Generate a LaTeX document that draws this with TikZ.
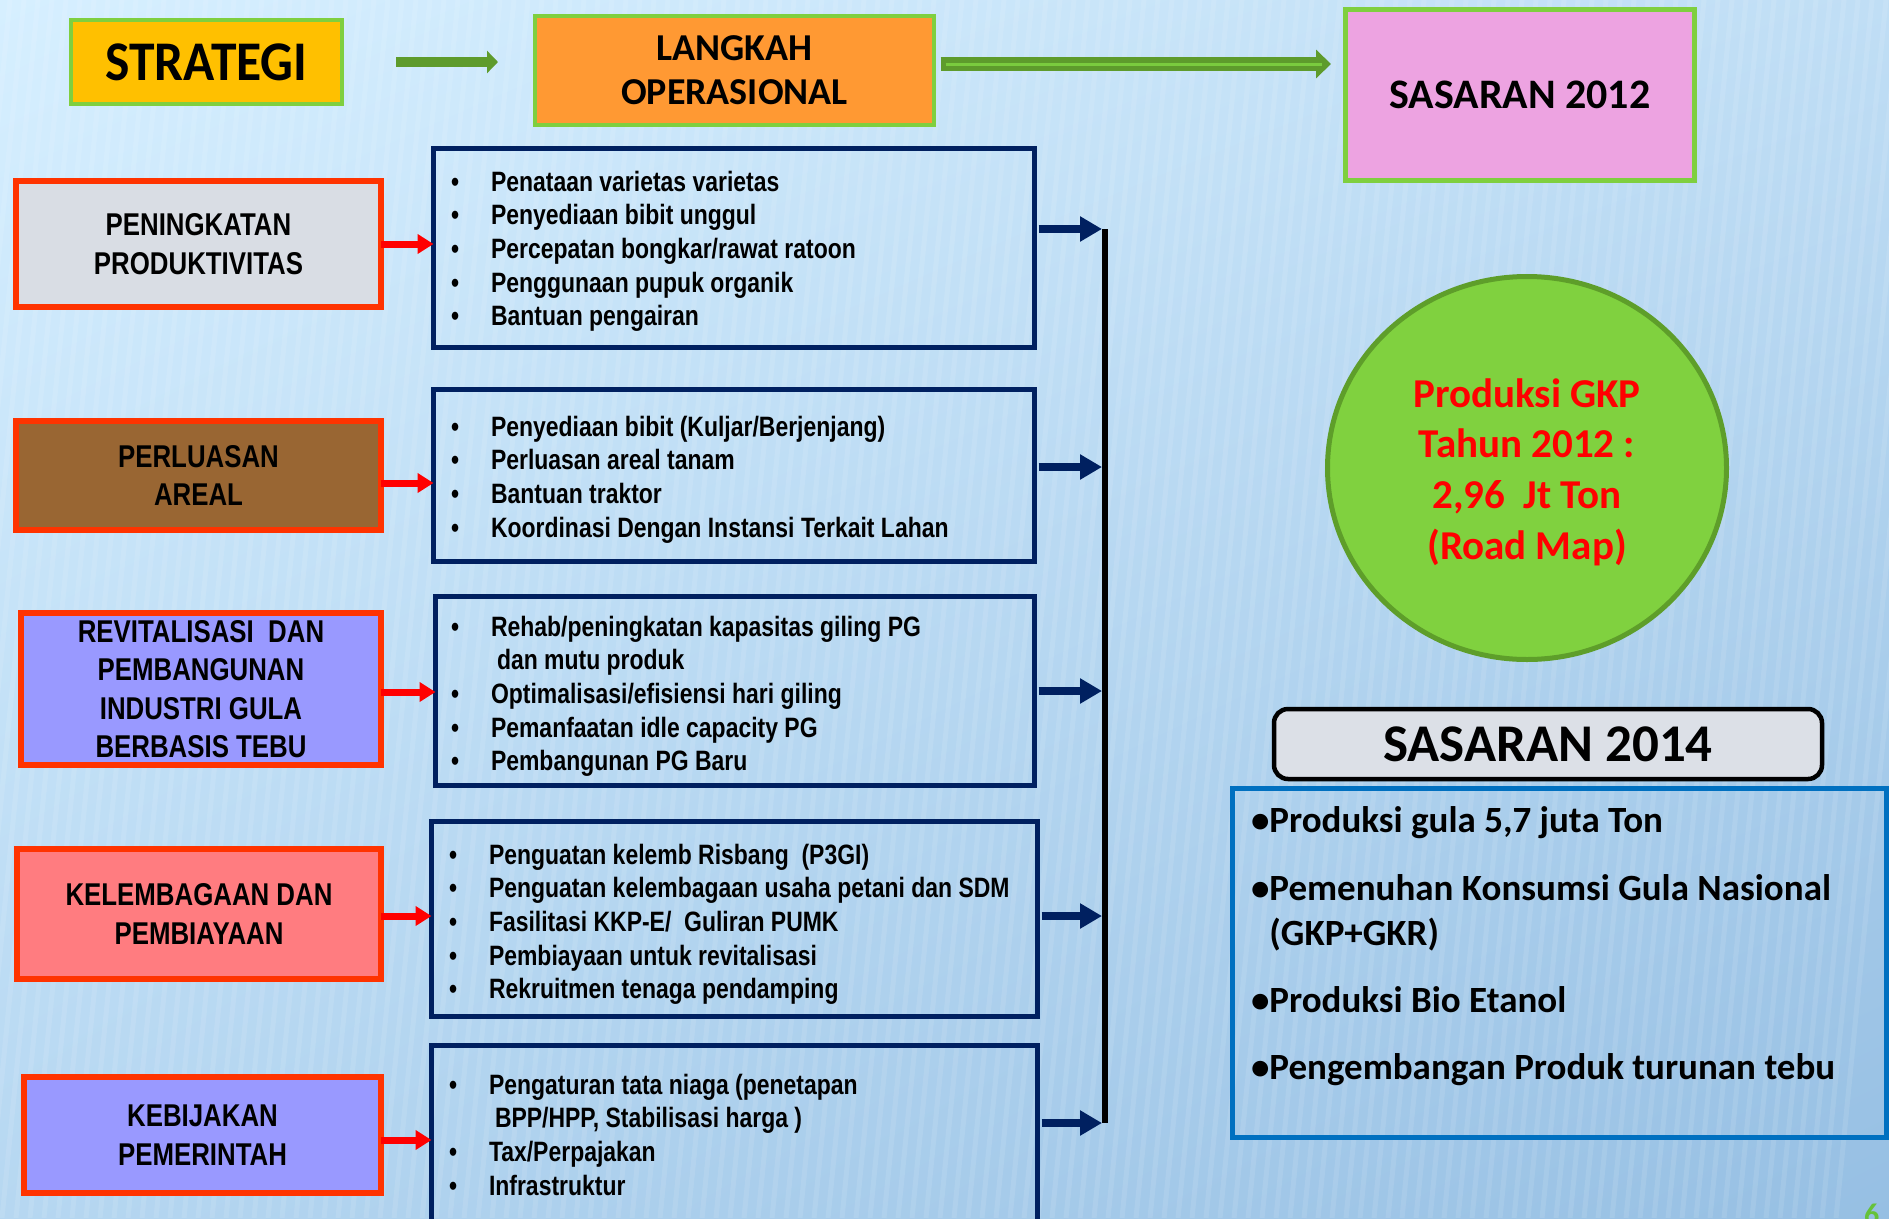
\documentclass[tikz,border=0pt]{standalone}
\usepackage{fontspec}
\usetikzlibrary{arrows.meta,shapes.geometric,shadings}
\newfontfamily\narrowfont[FakeStretch=0.82]{Liberation Sans}
\newfontfamily\calfont{Carlito}
\newfontfamily\calnarrow[FakeStretch=0.92]{Carlito}
\definecolor{bgUL}{HTML}{D6EFFF}
\definecolor{bgUR}{HTML}{C0DEF5}
\definecolor{bgLL}{HTML}{B6D7F1}
\definecolor{bgLR}{HTML}{96BFE3}
\definecolor{gArrow}{HTML}{5E9B2C}
\definecolor{gLight}{HTML}{7ACB3E}
\definecolor{gBorder}{HTML}{7FCF3F}
\definecolor{stratFill}{HTML}{FFC000}
\definecolor{langFill}{HTML}{FF9933}
\definecolor{sasFill}{HTML}{EDA3E1}
\definecolor{redB}{HTML}{FF3300}
\definecolor{redA}{HTML}{FF0000}
\definecolor{grayFill}{HTML}{D9DDE4}
\definecolor{brownFill}{HTML}{996633}
\definecolor{lilacFill}{HTML}{9999FF}
\definecolor{salmonFill}{HTML}{FF7C80}
\definecolor{navy}{HTML}{002060}
\definecolor{circFill}{HTML}{80D13F}
\definecolor{circBorder}{HTML}{5E9E2A}
\definecolor{sasGray}{HTML}{DCE0E7}
\definecolor{blueB}{HTML}{0070C0}
\definecolor{pageNum}{HTML}{66C23A}
\newcommand{\mybul}{\makebox[40pt][l]{•}}
\begin{document}
\begin{tikzpicture}[x=1pt,y=-1pt,
  topbox/.style={draw=gBorder, line width=4pt, inner sep=0pt, outer sep=0pt, align=center},
  lbox/.style={draw=redB, line width=6pt, inner sep=0pt, outer sep=0pt, align=center,
    font=\narrowfont\bfseries\fontsize{31.5}{38.5}\selectfont},
  mbox/.style={draw=navy, line width=5pt, inner sep=0pt, outer sep=0pt},
  mtext/.style={anchor=base west, inner sep=0pt, outer sep=0pt,
    font=\narrowfont\bfseries\fontsize{28}{33.7}\selectfont},
  rtext/.style={anchor=base west, inner sep=0pt, outer sep=0pt,
    font=\calfont\bfseries\fontsize{37}{45}\selectfont},
  redarrow/.style={draw=redA, line width=7pt, -{Triangle[length=16pt,width=19pt]}},
  navyarrow/.style={draw=navy, line width=8pt, -{Triangle[length=22pt,width=24pt]}},
  greenarrow/.style={draw=gArrow, line width=10pt, -{Triangle[length=11pt,width=22pt]}},
  biggreenarrow/.style={draw=gArrow, line width=14pt, -{Triangle[length=15pt,width=28pt]}},
  stripe/.style={draw=white, line width=5pt, opacity=0.10}
]
\useasboundingbox (0,0) rectangle (1889,1218);
\begin{scope}
\clip (0,0) rectangle (1889,1218);
\shade[upper left=bgUL, upper right=bgUR, lower left=bgLL, lower right=bgLR] (0,0) rectangle (1889,1218);
\foreach \i in {-200,-186,...,1960} {
  \draw[stripe] (\i,0) -- (\i-120,1218);
}

% top row
\node[topbox, fill=stratFill, minimum width=271pt, minimum height=84pt,
  font=\calnarrow\bfseries\fontsize{56}{56}\selectfont] (strat) at (206.5,62) {STRATEGI};
\node[topbox, fill=langFill, minimum width=399pt, minimum height=109pt,
  font=\calfont\bfseries\fontsize{38}{44}\selectfont] (lang) at (734.5,70.5) {LANGKAH\\OPERASIONAL};
\node[topbox, line width=5pt, fill=sasFill, minimum width=349pt, minimum height=171pt,
  font=\calfont\bfseries\fontsize{42}{42}\selectfont] (sas12) at (1520,95) {SASARAN 2012};

\draw[greenarrow, shorten <=54pt, shorten >=37pt] (strat.east) -- (strat.east -| lang.west);
\draw[biggreenarrow, shorten <=6.5pt, shorten >=14.5pt,
  postaction={draw=gLight, line width=3pt, arrows=-, shorten <=11.5pt, shorten >=23.5pt}]
  (lang.east |- 0,64) -- (sas12.west |- 0,64);

% left strategy boxes
\node[lbox, fill=grayFill, minimum width=365pt, minimum height=126pt] (l1) at (198.5,244) {PENINGKATAN\\PRODUKTIVITAS};
\node[lbox, fill=brownFill, minimum width=365pt, minimum height=109pt] (l2) at (198.5,475.5) {PERLUASAN\\AREAL};
\node[lbox, fill=lilacFill, minimum width=360pt, minimum height=152pt] (l3) at (201,689) {REVITALISASI~ DAN\\PEMBANGUNAN\\INDUSTRI GULA\\BERBASIS TEBU};
\node[lbox, fill=salmonFill, minimum width=364pt, minimum height=130pt] (l4) at (199,914) {KELEMBAGAAN DAN\\PEMBIAYAAN};
\node[lbox, fill=lilacFill, minimum width=357pt, minimum height=116pt] (l5) at (202.5,1135) {KEBIJAKAN\\PEMERINTAH};

% middle boxes
\node[mbox, minimum width=601pt, minimum height=199pt] (m1) at (734,248) {};
\node[mbox, minimum width=601pt, minimum height=172pt] (m2) at (734,475.5) {};
\node[mbox, minimum width=599pt, minimum height=189pt] (m3) at (735,691) {};
\node[mbox, minimum width=606pt, minimum height=195pt] (m4) at (734.5,919) {};
\node[mbox, minimum width=606pt, minimum height=212pt] (m5) at (734.5,1151.5) {};

\node[mtext] (t1) at (451,191) {\begin{tabular}[t]{@{}l@{}}
\mybul Penataan varietas varietas\\
\mybul Penyediaan bibit unggul\\
\mybul Percepatan bongkar/rawat ratoon\\
\mybul Penggunaan pupuk organik\\
\mybul Bantuan pengairan
\end{tabular}};
\node[mtext] (t2) at (451,436) {\begin{tabular}[t]{@{}l@{}}
\mybul Penyediaan bibit (Kuljar/Berjenjang)\\
\mybul Perluasan areal tanam\\
\mybul Bantuan traktor\\
\mybul Koordinasi Dengan Instansi Terkait Lahan
\end{tabular}};
\node[mtext] (t3) at (451,636) {\begin{tabular}[t]{@{}l@{}}
\mybul Rehab/peningkatan kapasitas giling PG\\
\hspace*{46pt}dan mutu produk\\
\mybul Optimalisasi/efisiensi hari giling\\
\mybul Pemanfaatan idle capacity PG\\
\mybul Pembangunan PG Baru
\end{tabular}};
\node[mtext] (t4) at (449,864) {\begin{tabular}[t]{@{}l@{}}
\mybul Penguatan kelemb Risbang~ (P3GI)\\
\mybul Penguatan kelembagaan usaha petani dan SDM\\
\mybul Fasilitasi KKP-E/~ Guliran PUMK\\
\mybul Pembiayaan untuk revitalisasi\\
\mybul Rekruitmen tenaga pendamping
\end{tabular}};
\node[mtext] (t5) at (449,1094) {\begin{tabular}[t]{@{}l@{}}
\mybul Pengaturan tata niaga (penetapan\\
\hspace*{46pt}BPP/HPP, Stabilisasi harga )\\
\mybul Tax/Perpajakan\\
\mybul Infrastruktur
\end{tabular}};

% red arrows
\draw[redarrow] (l1.east) -- (l1.east -| m1.west);
\draw[redarrow] (l2.east |- 0,483) -- (m2.west |- 0,483);
\draw[redarrow] (l3.east |- 0,692) -- (m3.west |- 0,692);
\draw[redarrow] (l4.east |- 0,916) -- (m4.west |- 0,916);
\draw[redarrow] (l5.east |- 0,1140) -- (m5.west |- 0,1140);

% collecting bar
\coordinate (b1) at (1105,229);
\coordinate (b2) at (1105,467);
\coordinate (b3) at (1105,691);
\coordinate (b4) at (1105,916);
\coordinate (b5) at (1105,1123);
\draw[black, line width=6pt] (b1) -- (b5);
\draw[navyarrow, shorten <=4pt, shorten >=3pt] (m1.east |- b1) -- (b1);
\draw[navyarrow, shorten <=4pt, shorten >=3pt] (m2.east |- b2) -- (b2);
\draw[navyarrow, shorten <=4pt, shorten >=3pt] (m3.east |- b3) -- (b3);
\draw[navyarrow, shorten <=4pt, shorten >=3pt] (m4.east |- b4) -- (b4);
\draw[navyarrow, shorten <=4pt, shorten >=3pt] (m5.east |- b5) -- (b5);

% circle
\node[ellipse, draw=circBorder, line width=5pt, fill=circFill, minimum width=399pt, minimum height=383pt,
  inner sep=0pt] (circ) at (1527,468) {};
\node[align=center, text=redA, inner sep=0pt,
  font=\calfont\bfseries\fontsize{41}{50.7}\selectfont] (circtext) at ([yshift=-4pt]circ.center)
  {Produksi GKP\\Tahun 2012 :\\2,96~ Jt Ton\\(Road Map)};

% sasaran 2014
\node[draw=black, line width=4.5pt, fill=sasGray, rounded corners=14pt, minimum width=548pt, minimum height=70pt,
  inner sep=0pt, font=\calfont\bfseries\fontsize{53}{53}\selectfont] (sas14) at (1548,744) {SASARAN 2014};
\node[draw=blueB, line width=5pt, minimum width=654pt, minimum height=349pt, inner sep=0pt] (bbox) at (1559.5,963) {};

\node[rtext] (r1) at (1251,832) {\begin{tabular}[t]{@{}l@{}l@{}}•&Produksi gula 5,7 juta Ton\end{tabular}};
\node[rtext] (r2) at (1251,900) {\begin{tabular}[t]{@{}l@{}l@{}}•&Pemenuhan Konsumsi Gula Nasional\\&(GKP+GKR)\end{tabular}};
\node[rtext] (r3) at (1251,1012) {\begin{tabular}[t]{@{}l@{}l@{}}•&Produksi Bio Etanol\end{tabular}};
\node[rtext] (r4) at (1251,1079) {\begin{tabular}[t]{@{}l@{}l@{}}•&Pengembangan Produk turunan tebu\end{tabular}};

\node[anchor=north west, inner sep=0pt, text=pageNum, font=\calfont\bfseries\fontsize{30}{30}\selectfont] (pg) at (1864,1204) {6};
\end{scope}
\end{tikzpicture}
\end{document}
